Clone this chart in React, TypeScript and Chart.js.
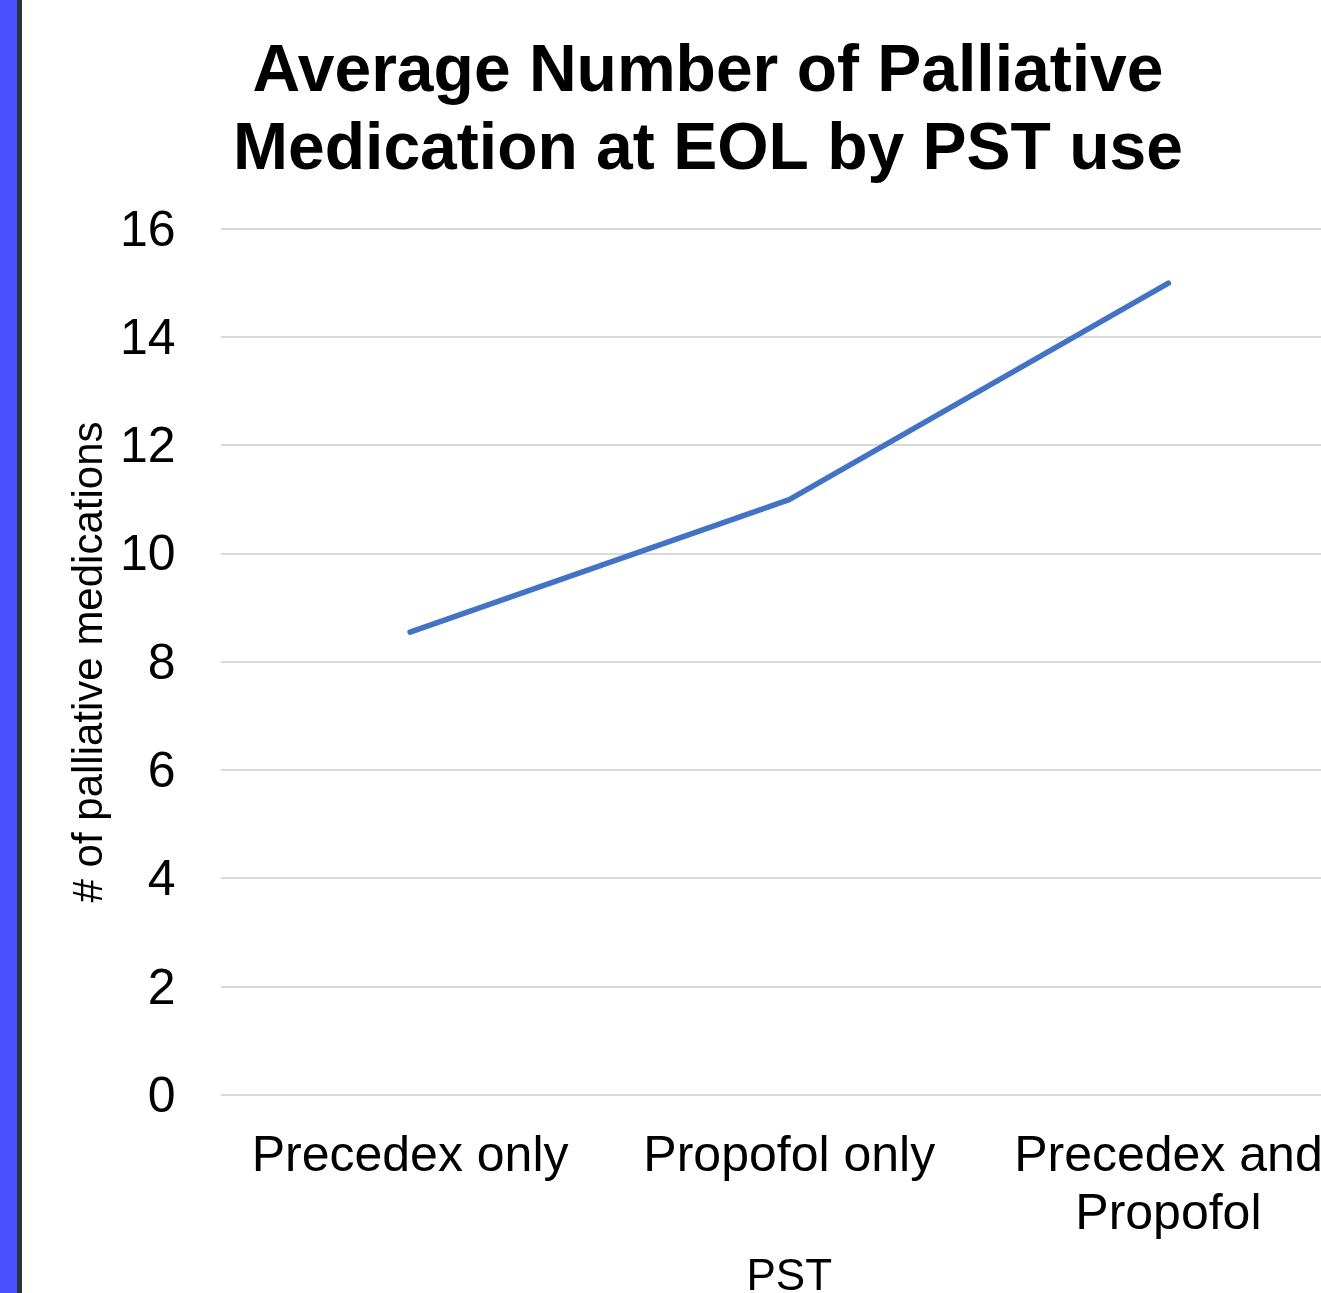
import React, { useEffect, useRef } from "react";
import { Chart, registerables } from "chart.js";

Chart.register(...registerables);

const titleLines = ["Average Number of Palliative", "Medication at EOL by PST use"];
const categories: (string | string[])[] = ["Precedex only", "Propofol only", ["Precedex and", "Propofol"]];
const seriesValues = [8.55, 11, 15];
const yTicks = [0, 2, 4, 6, 8, 10, 12, 14, 16];
const yAxisTitle = "# of palliative medications";
const xAxisTitle = "PST";

const FONT = "'Liberation Sans', Arial, Helvetica, sans-serif";

export default function App() {
  const ref = useRef<HTMLCanvasElement | null>(null);

  useEffect(() => {
    if (!ref.current) return;
    const chart = new Chart(ref.current, {
      type: "line",
      data: {
        labels: categories,
        datasets: [
          {
            data: seriesValues,
            borderColor: "#4472C4",
            backgroundColor: "#4472C4",
            borderWidth: 5.5,
            borderCapStyle: "round",
            borderJoinStyle: "round",
            pointRadius: 0,
            pointHoverRadius: 0,
            tension: 0,
            fill: false,
          },
        ],
      },
      options: {
        responsive: false,
        animation: false,
        devicePixelRatio: 1,
        layout: { padding: { left: 36, right: 0, top: 0, bottom: 0 } },
        plugins: {
          legend: { display: false },
          tooltip: { enabled: false },
          title: {
            display: true,
            text: titleLines,
            color: "#000",
            font: { family: FONT, size: 66, weight: "bold", lineHeight: 1.17 },
            padding: { top: 34.5, bottom: 40 },
          },
        },
        scales: {
          x: {
            type: "category",
            offset: true,
            grid: { display: false, drawTicks: false },
            border: { display: false },
            ticks: {
              color: "#000",
              font: { family: FONT, size: 50, lineHeight: 1.16 },
              padding: 33,
              maxRotation: 0,
              minRotation: 0,
              autoSkip: false,
            },
            title: {
              display: true,
              text: xAxisTitle,
              color: "#000",
              font: { family: FONT, size: 44, lineHeight: 1.2 },
              padding: { top: 0, bottom: 0 },
            },
            afterFit: (scale: any) => {
              scale.height = 209;
            },
          },
          y: {
            min: 0,
            max: 16,
            afterBuildTicks: (scale: any) => {
              scale.ticks = yTicks.map((v) => ({ value: v }));
            },
            grid: { color: "#D9D9D9", lineWidth: 2, drawTicks: false },
            border: { display: false },
            ticks: {
              color: "#000",
              font: { family: FONT, size: 50 },
              padding: 45,
              labelOffset: 3,
            },
            title: {
              display: true,
              text: yAxisTitle,
              color: "#000",
              font: { family: FONT, size: 42, lineHeight: 1.2 },
              padding: { top: 7, bottom: 0 },
            },
            afterFit: (scale: any) => {
              scale.width = 162.5;
            },
          },
        },
      },
    });
    return () => chart.destroy();
  }, []);

  return (
    <div
      style={{
        position: "absolute",
        left: 0,
        top: 0,
        width: 1321,
        height: 1293,
        overflow: "hidden",
        background: "#fff",
      }}
    >
      <div style={{ position: "absolute", left: 0, top: 0, width: 17, height: 1293, background: "#4B50FF" }} />
      <div style={{ position: "absolute", left: 17, top: 0, width: 5, height: 1293, background: "#283438" }} />
      <canvas
        ref={ref}
        width={1336}
        height={1304}
        style={{ position: "absolute", left: 22, top: 0, width: 1336, height: 1304 }}
      />
    </div>
  );
}
